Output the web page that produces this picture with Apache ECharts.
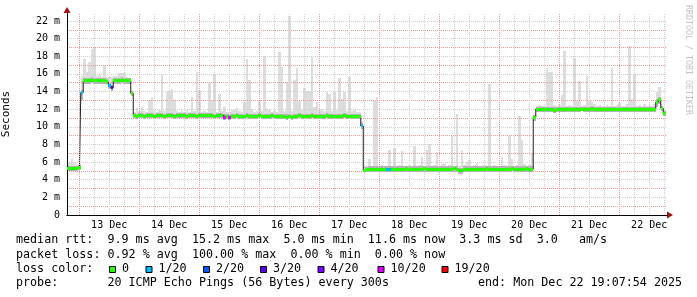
<!DOCTYPE html>
<html><head><meta charset="utf-8">
<script src="https://cdn.jsdelivr.net/npm/echarts@6/dist/echarts.min.js"></script>
<style>html,body{margin:0;padding:0;background:#fff}#c{width:697px;height:297px}</style>
</head><body><div id="c"></div>
<script>
// time: hours since Dec 12 00:00, one sample per hour starting at the graph start
const startHour = 19 + 7 / 60 + 54 / 3600;   // Dec 12 19:07:54
const spanHours = 240;
const dayLabels = ['13 Dec','14 Dec','15 Dec','16 Dec','17 Dec','18 Dec','19 Dec','20 Dec','21 Dec','22 Dec'];
const yTickLabels = ['0','2 m','4 m','6 m','8 m','10 m','12 m','14 m','16 m','18 m','20 m','22 m'];

// median rtt (ms), hourly
const median = [
5.3,5.3,5.3,5.3,5.3,5.4,13.9,15.2,15.2,15.2,15.3,15.2,15.2,15.2,15.2,15.2,15.1,14.7,14.4,15.2,
15.2,15.2,15.3,15.2,15.2,15.2,13.8,11.3,11.2,11.3,11.3,11.2,11.3,11.3,11.3,11.2,11.3,11.3,11.3,11.2,
11.3,11.3,11.3,11.2,11.3,11.3,11.3,11.3,11.2,11.3,11.3,11.3,11.2,11.3,11.3,11.3,11.3,11.3,11.3,11.2,
11.3,11.3,11.3,11.1,11.2,11.1,11.2,11.2,11.3,11.2,11.2,11.2,11.3,11.2,11.2,11.2,11.2,11.3,11.2,11.2,
11.2,11.2,11.3,11.2,11.2,11.2,11.2,11.2,11.1,11.2,11.05,11.2,11.2,11.3,11.2,11.2,11.2,11.2,11.3,11.2,
11.2,11.2,11.2,11.2,11.3,11.2,11.2,11.2,11.2,11.2,11.2,11.3,11.2,11.2,11.2,11.2,11.2,11.2,10.1,5.1,
5.15,5.2,5.2,5.2,5.2,5.2,5.2,5.2,5.2,5.2,5.2,5.2,5.2,5.2,5.2,5.2,5.25,5.2,5.2,5.2,
5.2,5.2,5.2,5.25,5.2,5.2,5.2,5.2,5.2,5.2,5.2,5.2,5.2,5.2,5.2,5.25,5.2,5.0,5.0,5.2,
5.2,5.2,5.2,5.2,5.2,5.2,5.2,5.2,5.25,5.2,5.2,5.2,5.2,5.2,5.2,5.2,5.2,5.2,5.3,5.2,
5.2,5.2,5.2,5.2,5.25,5.2,5.2,11.0,12.0,12.0,12.0,12.0,12.0,12.0,12.0,11.9,12.0,12.0,12.0,12.0,
12.0,12.0,12.0,12.0,12.0,12.0,12.0,12.0,12.0,12.0,12.1,12.0,12.0,12.0,12.0,12.0,12.0,12.0,12.0,12.0,
12.0,12.0,12.0,12.0,12.0,12.0,12.0,12.0,12.0,12.0,12.0,12.0,12.0,12.0,12.0,12.0,12.8,13.1,12.1,11.5
];
// highest ping of each hour (top of the smoke)
const maxRtt = [
5.9,5.9,6.4,6.0,5.7,5.8,15.8,17.7,16.2,17.4,18.8,19.0,15.8,15.9,15.7,17.0,15.7,15.6,15.6,15.8,
15.8,16.1,16.1,16.1,15.6,15.5,14.2,11.7,12.1,11.8,12.3,11.8,11.7,13.0,13.4,11.8,11.7,11.9,15.9,11.8,
13.9,14.1,14.3,13.0,11.8,11.7,11.8,11.7,11.9,11.7,13.4,11.8,16.2,14.2,11.7,11.8,11.7,15.0,13.0,15.9,
11.7,13.7,11.8,12.2,11.7,11.7,11.9,11.9,12.1,11.8,11.7,12.8,17.7,15.3,12.0,11.7,11.8,13.0,11.8,18.0,
12.0,11.9,11.7,11.8,11.7,18.5,16.8,11.8,15.1,22.6,11.8,15.3,16.7,12.9,11.9,14.4,14.1,14.1,17.9,12.2,
12.8,11.9,12.0,11.8,14.0,13.7,11.8,13.9,11.9,15.5,13.2,13.9,11.8,15.6,11.8,11.9,11.7,11.7,10.6,5.5,
5.6,6.4,5.6,12.9,13.4,5.6,5.7,5.6,5.6,7.4,5.6,7.6,5.6,5.7,7.3,5.6,5.6,5.7,5.6,7.8,
5.6,5.7,6.6,5.6,7.4,8.0,5.6,5.7,7.1,5.6,5.8,5.8,5.6,5.7,9.0,5.6,11.4,5.6,7.4,5.7,
6.0,6.2,5.6,5.7,5.9,5.6,5.6,5.7,5.6,14.9,5.6,5.7,5.6,5.6,6.6,5.7,5.6,8.9,6.3,5.6,
5.7,11.2,8.5,5.8,5.6,5.7,7.0,11.3,12.4,12.5,12.4,12.4,16.7,16.2,16.2,12.5,12.4,12.5,13.6,18.6,
12.4,12.5,12.4,17.8,13.0,15.2,12.4,12.5,15.8,13.0,12.8,12.6,12.4,12.5,12.4,12.4,12.5,12.4,16.7,12.4,
12.5,12.7,12.4,12.4,12.6,19.2,13.2,15.9,12.4,12.5,12.4,12.6,12.4,12.5,12.4,12.6,14.0,14.5,12.6,11.9
];
// lowest ping of each hour (bottom of the smoke)
const minRtt = [
5.0,5.0,5.0,5.0,5.0,5.1,13.0,14.9,14.9,14.9,15.0,14.9,14.9,14.9,14.9,14.9,14.8,14.3,14.1,14.9,
14.9,14.9,15.0,14.9,14.9,14.9,13.5,11.0,10.9,11.0,11.0,10.9,11.0,11.0,11.0,10.9,11.0,11.0,11.0,10.9,
11.0,11.0,11.0,10.9,11.0,11.0,11.0,11.0,10.9,11.0,11.0,11.0,10.9,11.0,11.0,11.0,11.0,11.0,11.0,10.9,
11.0,11.0,11.0,10.8,10.9,10.8,10.9,10.9,11.0,10.9,10.9,10.9,11.0,10.9,10.9,10.9,10.9,11.0,10.9,10.9,
10.9,10.9,11.0,10.9,10.9,10.9,10.9,10.9,10.8,10.9,10.8,10.9,10.9,11.0,10.9,10.9,10.9,10.9,11.0,10.9,
10.9,10.9,10.9,10.9,11.0,10.9,10.9,10.9,10.9,10.9,10.9,11.0,10.9,10.9,10.9,10.9,10.9,10.9,9.8,4.9,
4.9,4.9,4.9,4.9,4.9,4.9,4.9,4.9,4.9,4.9,4.9,4.9,4.9,4.9,4.9,4.9,4.9,4.9,4.9,4.9,
4.9,4.9,4.9,4.9,4.9,4.9,4.9,4.9,4.9,4.9,4.9,4.9,4.9,4.9,4.9,4.9,4.9,4.7,4.7,4.9,
4.9,4.9,4.9,4.9,4.9,4.9,4.9,4.9,4.9,4.9,4.9,4.9,4.9,4.9,4.9,4.9,4.9,4.9,5.0,4.9,
4.9,4.9,4.9,4.9,4.9,4.9,4.9,10.7,11.7,11.7,11.7,11.7,11.7,11.7,11.7,11.6,11.7,11.7,11.7,11.7,
11.7,11.7,11.7,11.7,11.7,11.7,11.8,11.7,11.7,11.7,11.7,11.7,11.7,11.7,11.7,11.7,11.7,11.7,11.7,11.7,
11.7,11.7,11.7,11.7,11.7,11.7,11.7,11.7,11.7,11.7,11.7,11.7,11.7,11.7,11.7,11.7,12.3,12.6,11.8,11.2
];
// hours with packet loss: sample index and loss bucket index
const lossIdx = [6, 17, 18, 63, 65, 118, 128, 129];
const lossBucket = [1, 1, 3, 5, 5, 1, 1, 1];
const lossNames = ['0','1/20','2/20','3/20','4/20','10/20','19/20'];
const lossColors = ['#26ff00','#00b8ff','#0059ff','#5e00ff','#7e00ff','#dd00ff','#ff0000'];

const legendLines = [
  'median rtt:  9.9 ms avg  15.2 ms max  5.0 ms min  11.6 ms now  3.3 ms sd  3.0   am/s',
  'packet loss: 0.92 % avg  100.00 % max  0.00 % min  0.00 % now',
  'loss color:',
  'probe:       20 ICMP Echo Pings (56 Bytes) every 300s'
];
const endText = 'end: Mon Dec 22 19:07:54 2025';

// ---------- build ----------
const xs = median.map((_, i) => startHour + i);
const DARK = 0.3;    // extent of the darker smoke above the median (ms)
const BAR_PX = 3;    // thickness of the coloured median bar (px)

const gridLines = [];
for (let h = Math.ceil(startHour / 6) * 6; h < startHour + spanHours; h += 6) {
  gridLines.push({ xAxis: h, lineStyle: { color: h % 24 === 0 ? '#eb9a9a' : '#cfcfcf', type: [1, 1], width: 1 } });
}
const noonHours = dayLabels.map((_, k) => 36 + 24 * k);
const lossOf = median.map(() => 0);
lossIdx.forEach((i, k) => { lossOf[i] = lossBucket[k]; });

const mono = '"DejaVu Sans Mono", monospace';

// a rectangle per sample between two values, through the axis scales
function bandSeries(name, rows, color, z) {
  return {
    type: 'custom', name, silent: true, animation: false, clip: true, z,
    encode: { x: 0, y: [1, 2] },
    data: rows,
    renderItem: (params, api) => {
      const x = api.value(0);
      const a = api.coord([x - 0.5, api.value(2)]);
      const b = api.coord([x + 0.5, api.value(1)]);
      const x0 = Math.round(a[0]), x1 = Math.round(b[0]);
      const y0 = Math.round(a[1]), y1 = Math.max(Math.round(b[1]), y0 + 1);
      return { type: 'rect', shape: { x: x0, y: y0, width: x1 - x0, height: y1 - y0 },
        style: { fill: color } };
    }
  };
}

const series = [
  { type: 'line', name: 'grid', data: xs.map((x, i) => [x, median[i]]), symbol: 'none', silent: true, z: 1,
    lineStyle: { opacity: 0 }, animation: false,
    markLine: { silent: true, symbol: ['none', 'none'], label: { show: false }, animation: false, data: gridLines } },
  bandSeries('smoke', xs.map((x, i) => [x, minRtt[i], maxRtt[i]]), '#dddddd', 2),
  bandSeries('darkSmoke', xs.map((x, i) => [x, minRtt[i], median[i] + DARK]), '#b4b4b4', 3),
  { type: 'line', name: 'median', data: xs.map((x, i) => [x, median[i]]), step: 'middle', symbol: 'none', silent: true, z: 4,
    lineStyle: { width: 1, color: '#202020' }, animation: false },
  {
    type: 'custom', name: 'medianLoss', silent: true, animation: false, clip: true, z: 6,
    encode: { x: 0, y: 1 },
    data: xs.map((x, i) => [x, median[i], lossOf[i]]),
    renderItem: (params, api) => {
      const x = api.value(0);
      const a = api.coord([x - 0.5, api.value(1)]);
      const b = api.coord([x + 0.5, api.value(1)]);
      const x0 = Math.round(a[0]), x1 = Math.round(b[0]);
      return { type: 'rect', shape: { x: x0, y: Math.round(a[1] - BAR_PX / 2), width: x1 - x0, height: BAR_PX },
        style: { fill: lossColors[api.value(2)] } };
    }
  }
];

const graphic = [];
const legendY = [241, 256, 270, 284];
legendLines.forEach((t, k) => graphic.push({ type: 'text', left: 16, top: legendY[k] - 7, silent: true,
  style: { text: t, font: '11.7px ' + mono, fill: '#000' } }));
graphic.push({ type: 'text', left: 478, top: legendY[3] - 7, silent: true, style: { text: endText, font: '11.7px ' + mono, fill: '#000' } });
const boxX = [109, 145.5, 203, 260, 317.5, 377.5, 441.5];
lossNames.forEach((n, k) => {
  graphic.push({ type: 'rect', shape: { x: boxX[k] + 0.5, y: legendY[2] - 3.5, width: 6, height: 6 }, silent: true,
    style: { fill: lossColors[k], stroke: '#000', lineWidth: 1 } });
  graphic.push({ type: 'text', left: boxX[k] + 13, top: legendY[2] - 7, silent: true,
    style: { text: n, font: '11.7px ' + mono, fill: '#000' } });
});
graphic.push({ type: 'text', x: 688, y: 60, rotation: -Math.PI / 2, silent: true,
  style: { text: 'RRDTOOL / TOBI OETIKER', font: '8.3px ' + mono, fill: '#c4c4c4', align: 'center', verticalAlign: 'middle' } });

const xBase = { type: 'value', min: startHour, max: startHour + spanHours, gridIndex: 0 };
const yBase = { type: 'value', min: 0, max: 22.9, interval: 1, gridIndex: 0 };

const chart = echarts.init(document.getElementById('c'), null, { renderer: 'canvas' });
chart.setOption({
  animation: false,
  backgroundColor: '#ffffff',
  grid: { left: 67, top: 13, width: 600, height: 202, containLabel: false, outerBoundsMode: 'none' },
  xAxis: [
    Object.assign({}, xBase, {
      position: 'bottom', z: 3,
      axisLine: { show: true, lineStyle: { color: '#000', width: 1 } },
      axisTick: { show: false },
      splitLine: { show: false },
      axisLabel: { customValues: noonHours, margin: 5, color: '#000', fontFamily: mono, fontSize: 10,
        formatter: v => dayLabels[Math.round((v - 36) / 24)] || '' }
    }),
    Object.assign({}, xBase, {
      position: 'bottom', z: 2,
      axisLine: { show: true, symbol: ['none', 'triangle'], symbolSize: [7, 6], symbolOffset: [0, 3], lineStyle: { color: '#a01010', width: 1 } },
      axisTick: { show: false }, splitLine: { show: false }, axisLabel: { show: false }
    })
  ],
  yAxis: [
    Object.assign({}, yBase, {
      position: 'left', z: 3,
      name: 'Seconds', nameLocation: 'middle', nameGap: 55, nameRotate: 90,
      nameTextStyle: { fontFamily: mono, fontSize: 11, color: '#000' },
      axisLine: { show: true, lineStyle: { color: '#000', width: 1 } },
      axisTick: { show: false },
      splitLine: { show: true, showMinLine: false, showMaxLine: false,
        lineStyle: { color: ['#eb9a9a', '#cfcfcf'], type: [1, 1], width: 1 } },
      axisLabel: { margin: 7, color: '#000', fontFamily: mono, fontSize: 10, showMaxLabel: false,
        formatter: v => (Math.abs(v - Math.round(v)) < 1e-6 && Math.round(v) % 2 === 0) ? (yTickLabels[Math.round(v) / 2] || '') : '' }
    }),
    Object.assign({}, yBase, {
      position: 'left', z: 2,
      axisLine: { show: true, symbol: ['none', 'triangle'], symbolSize: [7, 6], symbolOffset: [0, 3], lineStyle: { color: '#a01010', width: 1 } },
      axisTick: { show: false }, splitLine: { show: false }, axisLabel: { show: false }
    })
  ],
  series,
  graphic
});
</script>
</body></html>
